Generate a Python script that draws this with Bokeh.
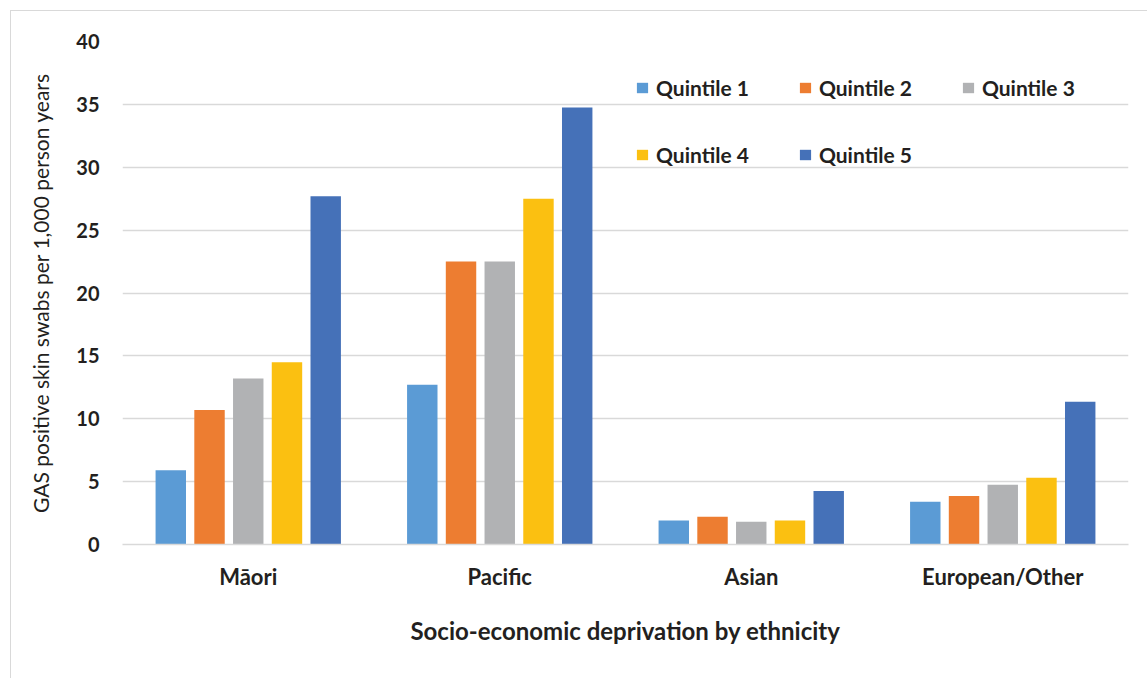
from bokeh.plotting import figure
from bokeh.models import (FactorRange, Range1d, Legend, LegendItem, ColumnDataSource,
                          FixedTicker)
from bokeh.transform import dodge
from bokeh.embed import file_html
from bokeh.resources import INLINE

ethnicities = ["Māori", "Pacific", "Asian", "European/Other"]
quintile_labels = ["Quintile 1", "Quintile 2", "Quintile 3", "Quintile 4", "Quintile 5"]
q1 = [5.9, 12.7, 1.9, 3.4]
q2 = [10.7, 22.5, 2.2, 3.85]
q3 = [13.2, 22.5, 1.8, 4.75]
q4 = [14.5, 27.5, 1.9, 5.3]
q5 = [27.7, 34.75, 4.25, 11.35]
y_ticks = [0, 5, 10, 15, 20, 25, 30, 35, 40]

colors = ["#5B9BD5", "#ED7D31", "#B1B2B4", "#FBC011", "#4571B8"]
keys = ["q1", "q2", "q3", "q4", "q5"]

source = ColumnDataSource(data=dict(eth=ethnicities, q1=q1, q2=q2, q3=q3, q4=q4, q5=q5))

TEXT = "#231F20"
FONT = "Lato"
GRID = "#D9D9D9"

p = figure(width=1137, height=668, x_range=FactorRange(factors=ethnicities),
           y_range=Range1d(0, 40), output_backend="svg", toolbar_location=None,
           min_border_left=111, min_border_right=20, min_border_top=30, min_border_bottom=135)
p.styles = {"border-left": "1px solid #D9D9D9", "border-top": "1px solid #D9D9D9",
            "margin-left": "10px", "margin-top": "10px"}
p.outline_line_color = None
p.background_fill_color = "white"
p.border_fill_color = "white"

offsets = [-0.308, -0.154, 0.0, 0.154, 0.308]
renderers = []
for k, off, c in zip(keys, offsets, colors):
    r = p.vbar(x=dodge("eth", off, range=p.x_range), top=k, width=0.121, bottom=0,
               source=source, fill_color=c, line_color=None)
    renderers.append(r)

p.xgrid.grid_line_color = None
p.ygrid.grid_line_color = GRID
p.ygrid.grid_line_width = 1.5
p.yaxis.ticker = FixedTicker(ticks=y_ticks)

p.yaxis.axis_line_color = None
p.yaxis.major_tick_line_color = None
p.yaxis.minor_tick_line_color = None
p.yaxis.major_label_text_font = FONT
p.yaxis.major_label_text_font_style = "bold"
p.yaxis.major_label_text_font_size = "20px"
p.yaxis.major_label_text_color = TEXT
p.yaxis.major_label_standoff = 17
p.yaxis.axis_label = "GAS positive skin swabs per 1,000 person years"
p.yaxis.axis_label_text_font = FONT
p.yaxis.axis_label_text_font_style = "normal"
p.yaxis.axis_label_text_font_size = "21px"
p.yaxis.axis_label_text_color = TEXT
p.yaxis.axis_label_standoff = 20

p.xaxis.axis_line_color = GRID
p.xaxis.axis_line_width = 1.5
p.xaxis.major_tick_line_color = None
p.xaxis.minor_tick_line_color = None
p.xaxis.major_label_text_font = FONT
p.xaxis.major_label_text_font_style = "bold"
p.xaxis.major_label_text_font_size = "22px"
p.xaxis.major_label_text_color = TEXT
p.xaxis.major_label_standoff = 12
p.xaxis.axis_label = "Socio-economic deprivation by ethnicity"
p.xaxis.axis_label_text_font = FONT
p.xaxis.axis_label_text_font_style = "bold"
p.xaxis.axis_label_text_font_size = "24px"
p.xaxis.axis_label_text_color = TEXT
p.xaxis.axis_label_standoff = 23


def make_legend(idx, loc):
    items = [LegendItem(label=quintile_labels[i], renderers=[renderers[i]]) for i in idx]
    lg = Legend(items=items, orientation="horizontal", location=loc,
                glyph_width=14, glyph_height=13, label_standoff=7, spacing=49,
                padding=0, margin=0, border_line_color=None, background_fill_alpha=0,
                label_text_font=FONT, label_text_font_style="bold",
                label_text_font_size="21px", label_text_color=TEXT)
    p.add_layout(lg, "center")


make_legend([0, 1, 2], (513, 444))
make_legend([3, 4], (513, 377))

open("out.html", "w").write(file_html(p, INLINE))
